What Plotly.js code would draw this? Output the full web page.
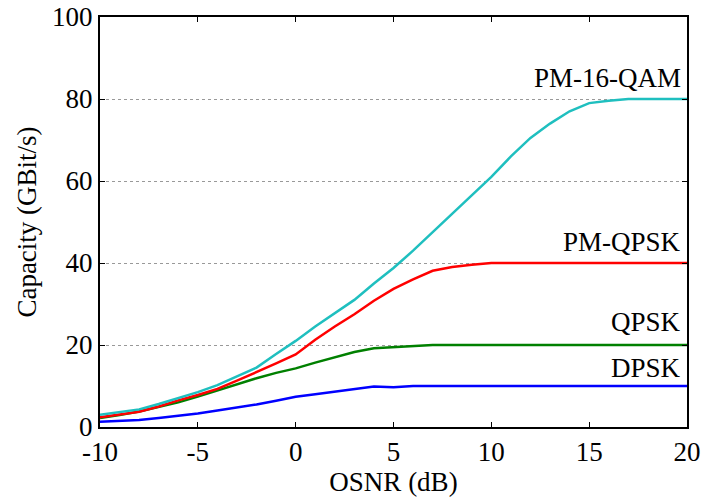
<!DOCTYPE html>
<html><head><meta charset="utf-8">
<script src="https://cdn.plot.ly/plotly-3.0.1.min.js"></script>
<style>html,body{margin:0;padding:0;background:#fff}</style>
</head><body><div id="c" style="width:705px;height:498px"></div>
<script>
const osnr = [-10,-9,-8,-7,-6,-5,-4,-3,-2,-1,0,1,2,3,4,5,6,7,8,9,10,11,12,13,14,15,16,17,18,19,20];
const pm16qam = [3,3.6,4.3,5.6,7,8.5,10.2,12.3,14.5,17.8,21,24.5,27.8,31,35,38.8,43,47.5,52,56.5,61,66,70.5,74,77,79,79.6,80,80,80,80];
const pmqpsk = [2.4,3,3.7,5,6.5,7.8,9.3,11.3,13.5,15.5,17.7,21.3,24.5,27.5,30.8,33.7,36,38.1,39,39.6,40,40,40,40,40,40,40,40,40,40,40];
const qpsk = [2.2,2.9,3.8,4.9,6,7.4,8.9,10.3,11.9,13.2,14.3,15.7,17,18.3,19.2,19.5,19.8,20,20,20,20,20,20,20,20,20,20,20,20,20,20];
const dpsk = [1.3,1.5,1.7,2.2,2.7,3.3,4,4.7,5.5,6.4,7.4,8,8.6,9.2,9.9,9.7,10,10,10,10,10,10,10,10,10,10,10,10,10,10,10];
const labels = ['PM-16-QAM','PM-QPSK','QPSK','DPSK'];
const labelY = [82.7,42.7,23.2,12.0];
const xTicks = [-10,-5,0,5,10,15,20];
const yTicks = [0,20,40,60,80,100];

const font = {family:'Liberation Serif, Times New Roman, serif', size:27, color:'#000'};
const mk = (y,c) => ({x:osnr, y:y, type:'scatter', mode:'lines', line:{color:c, width:2.5}, showlegend:false, hoverinfo:'skip'});
const data = [mk(dpsk,'#0000ff'), mk(qpsk,'#008000'), mk(pmqpsk,'#ff0000'), mk(pm16qam,'#1fbfbf')];

const annotations = labels.map((t,i)=>({x:20, y:labelY[i], xref:'x', yref:'y', text:t, showarrow:false, xanchor:'right', yanchor:'bottom', xshift:-4, yshift:-7, font:font}));

const layout = {
  width:705, height:498,
  margin:{l:100, r:18, t:17, b:71},
  paper_bgcolor:'#fff', plot_bgcolor:'#fff',
  font:font,
  xaxis:{range:[-10,20], tickvals:xTicks, ticktext:xTicks.map(String), ticks:'inside', ticklen:5, tickwidth:1, tickcolor:'#000',
         showline:true, linecolor:'#000', linewidth:2, mirror:'ticks', showgrid:false, zeroline:false,
         title:{text:'OSNR (dB)', font:font, standoff:4}, tickfont:font},
  yaxis:{range:[0,100], tickvals:yTicks, ticktext:yTicks.map(String), ticks:'inside', ticklen:5, tickwidth:1, tickcolor:'#000',
         showline:true, linecolor:'#000', linewidth:2, mirror:'ticks', showgrid:true, gridcolor:'#999', gridwidth:1, griddash:'dot', zeroline:false,
         title:{text:'Capacity (GBit/s)', font:font, standoff:8}, tickfont:font},
  annotations:annotations
};
Plotly.newPlot('c', data, layout, {staticPlot:true});
</script></body></html>
